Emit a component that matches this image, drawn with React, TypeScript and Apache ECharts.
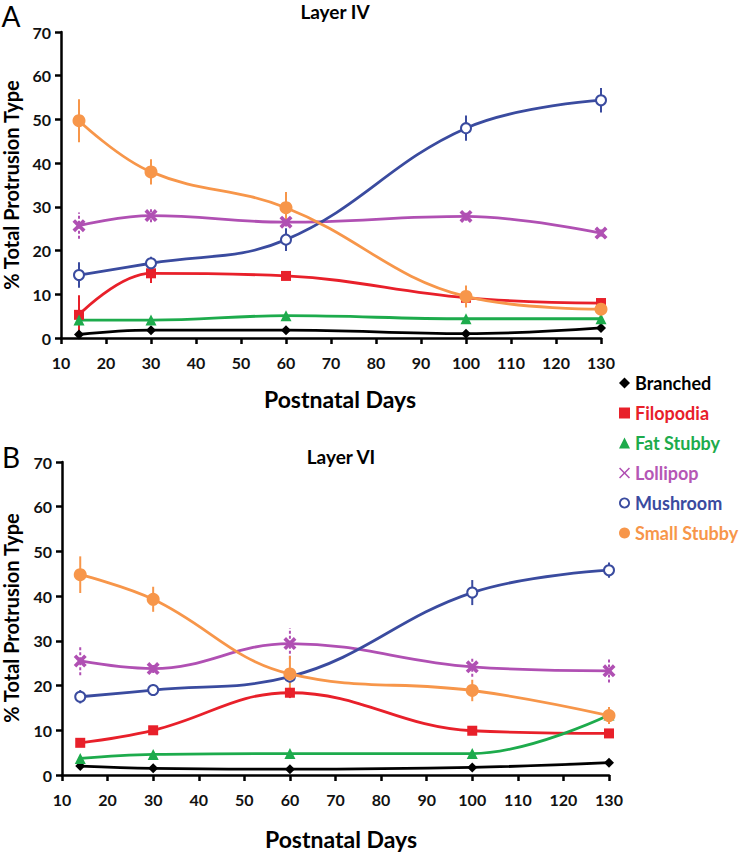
import React, { useEffect, useRef } from "react";
import * as echarts from "echarts";

const days = [14, 30, 60, 100, 130];
const seriesNames = ["Branched", "Filopodia", "Fat Stubby", "Lollipop", "Mushroom", "Small Stubby"];
const colors = ["#000000", "#e8202a", "#1dab4c", "#b050b3", "#3a4b9f", "#f7964a"];
const legendTextColors = ["#000000", "#e8202a", "#1dab4c", "#b557b5", "#3a4b9f", "#f7964a"];

// Layer IV (panel A)
const a_branched = [0.8, 1.8, 1.8, 1.0, 2.3];
const a_filopodia = [5.3, 14.8, 14.2, 9.2, 8.0];
const a_fatStubby = [4.1, 4.1, 5.1, 4.4, 4.4];
const a_lollipop = [25.7, 28.0, 26.5, 27.8, 24.0];
const a_mushroom = [14.4, 17.1, 22.5, 48.0, 54.4];
const a_smallStubby = [49.7, 38.0, 29.8, 9.5, 6.6];

const a_branchedErr = [0.4, 0.4, 0.4, 0.4, 0.4];
const a_filopodiaErr = [4.5, 2.2, 0.8, 0.8, 0.5];
const a_fatStubbyErr = [0.5, 0.5, 0.5, 0.4, 0.4];
const a_lollipopErr = [3.0, 1.5, 1.0, 1.0, 0.8];
const a_mushroomErr = [2.9, 1.5, 2.6, 2.9, 2.8];
const a_smallStubbyErr = [4.9, 2.9, 3.6, 2.5, 1.0];

// Layer VI (panel B)
const b_branched = [2.0, 1.5, 1.3, 1.7, 2.75];
const b_filopodia = [7.2, 10.0, 18.4, 9.9, 9.3];
const b_fatStubby = [3.7, 4.6, 4.8, 4.8, 13.4];
const b_lollipop = [25.5, 23.8, 29.4, 24.2, 23.3];
const b_mushroom = [17.5, 19.0, 22.0, 40.8, 45.8];
const b_smallStubby = [44.8, 39.3, 22.6, 18.9, 13.3];

const b_branchedErr = [0.5, 0.4, 0.4, 0.4, 0.4];
const b_filopodiaErr = [0.9, 0.9, 1.2, 0.9, 0.9];
const b_fatStubbyErr = [0.6, 0.6, 0.6, 0.6, 0.8];
const b_lollipopErr = [3.2, 1.0, 3.4, 2.2, 2.6];
const b_mushroomErr = [1.5, 1.3, 1.0, 2.8, 1.7];
const b_smallStubbyErr = [4.1, 2.8, 4.0, 2.4, 1.9];

const xTicks = { min: 10, max: 130, interval: 10 };
const yTicks = { min: 0, max: 70, interval: 10 };

const FONT = "Lato, 'Open Sans', sans-serif";

const thickX = "path://M2,0 L5,3 L8,0 L10,2 L7,5 L10,8 L8,10 L5,7 L2,10 L0,8 L3,5 L0,2 Z";
const thinX = "path://M0,1 L1,0 L5,4 L9,0 L10,1 L6,5 L10,9 L9,10 L5,6 L1,10 L0,9 L4,5 Z";
const ring = "path://M5,0 A5,5 0 1,1 4.99,0 Z M5,1.7 A3.3,3.3 0 1,0 5.01,1.7 Z";
const symbols = ["diamond", "rect", "triangle", thickX, "emptyCircle", "circle"];
const symbolSizes = [10, 10, 11, 13, 10, 13];
const legendIcons = ["diamond", "rect", "triangle", thinX, ring, "circle"];

export default function App() {
  const ref = useRef<HTMLDivElement>(null);
  useEffect(() => {
    if (!ref.current) return;
    const chart = echarts.init(ref.current, null, { renderer: "svg" });

    const panels = [
      {
        vals: [a_branched, a_filopodia, a_fatStubby, a_lollipop, a_mushroom, a_smallStubby],
        errs: [a_branchedErr, a_filopodiaErr, a_fatStubbyErr, a_lollipopErr, a_mushroomErr, a_smallStubbyErr],
      },
      {
        vals: [b_branched, b_filopodia, b_fatStubby, b_lollipop, b_mushroom, b_smallStubby],
        errs: [b_branchedErr, b_filopodiaErr, b_fatStubbyErr, b_lollipopErr, b_mushroomErr, b_smallStubbyErr],
      },
    ];

    const series: any[] = [];
    panels.forEach((p, gi) => {
      p.vals.forEach((vals, si) => {
        const errData = days.map((d, k) => [d, vals[k] - p.errs[si][k], vals[k] + p.errs[si][k]]);
        const col = colors[si];
        const dashed = si === 3;
        series.push({
          type: "custom",
          name: seriesNames[si] + " error",
          xAxisIndex: gi,
          yAxisIndex: gi,
          z: 1,
          silent: true,
          data: errData,
          renderItem: (params: any, api: any) => {
            const x = api.value(0);
            const p1 = api.coord([x, api.value(1)]);
            const p2 = api.coord([x, api.value(2)]);
            return {
              type: "line",
              shape: { x1: p1[0], y1: p1[1], x2: p2[0], y2: p2[1] },
              style: { stroke: col, lineWidth: 2, lineDash: dashed ? [3, 2] : null },
            };
          },
        });
        series.push({
          type: "line",
          name: seriesNames[si],
          xAxisIndex: gi,
          yAxisIndex: gi,
          z: 3,
          smooth: 0.4,
          data: days.map((d, k) => [d, vals[k]]),
          symbol: symbols[si],
          symbolSize: symbolSizes[si],
          showSymbol: true,
          lineStyle: { color: col, width: 2.8 },
          itemStyle:
            si === 4
              ? { color: col, borderColor: col, borderWidth: 2.5 }
              : { color: col, borderWidth: 0 },
        });
      });
    });

    const axisCommonX = {
      type: "value",
      ...xTicks,
      axisLine: { show: true, onZero: false, lineStyle: { color: "#000", width: 2.5 } },
      axisTick: { show: true, inside: false, length: 6, lineStyle: { color: "#000", width: 2.5 } },
      axisLabel: { margin: 16, color: "#111", fontFamily: FONT, fontWeight: "bold", fontSize: 16 },
      splitLine: { show: false },
    };
    const axisCommonY = {
      type: "value",
      ...yTicks,
      axisLine: { show: true, onZero: false, lineStyle: { color: "#000", width: 2.5 } },
      axisTick: { show: true, inside: false, length: 6, lineStyle: { color: "#000", width: 2.5 } },
      axisLabel: { margin: 10, color: "#111", fontFamily: FONT, fontWeight: "bold", fontSize: 16 },
      splitLine: { show: false },
    };

    const textStyle = (text: string, size: number, weight: string) => ({
      text,
      fontFamily: FONT,
      fontSize: size,
      fontWeight: weight,
      fill: "#000",
      align: "center",
      verticalAlign: "middle",
    });

    chart.setOption({
      animation: false,
      backgroundColor: "#fff",
      grid: [
        { left: 61, top: 32, width: 540, height: 306 },
        { left: 62, top: 462, width: 547, height: 313 },
      ],
      xAxis: [
        { ...axisCommonX, gridIndex: 0 },
        { ...axisCommonX, gridIndex: 1 },
      ],
      yAxis: [
        { ...axisCommonY, gridIndex: 0 },
        { ...axisCommonY, gridIndex: 1 },
      ],
      legend: {
        orient: "vertical",
        left: 619,
        top: 374,
        padding: 0,
        itemWidth: 11,
        itemHeight: 11,
        itemGap: 12,
        selectedMode: false,
        textStyle: { fontFamily: FONT, fontWeight: "bold", fontSize: 18 },
        data: seriesNames.map((n, i) => ({
          name: n,
          icon: legendIcons[i],
          textStyle: { color: legendTextColors[i] },
          itemStyle: { color: colors[i], borderWidth: 0 },
        })),
      },
      graphic: [
        { type: "text", x: 11, y: 16, style: textStyle("A", 28, "normal") },
        { type: "text", x: 11, y: 457, style: textStyle("B", 28, "normal") },
        { type: "text", x: 335, y: 11, style: textStyle("Layer IV", 19, "bold") },
        { type: "text", x: 341, y: 456, style: textStyle("Layer VI", 19, "bold") },
        { type: "text", x: 340, y: 399, style: textStyle("Postnatal Days", 23, "bold") },
        { type: "text", x: 341, y: 839, style: textStyle("Postnatal Days", 23, "bold") },
        { type: "text", x: 11, y: 185, rotation: Math.PI / 2, style: textStyle("% Total Protrusion Type", 20, "bold") },
        { type: "text", x: 11, y: 618, rotation: Math.PI / 2, style: textStyle("% Total Protrusion Type", 20, "bold") },
      ],
      series,
    });
    return () => chart.dispose();
  }, []);
  return (
    <div
      ref={ref}
      style={{ position: "absolute", left: 0, top: 0, width: 742, height: 853, background: "#fff" }}
    />
  );
}
